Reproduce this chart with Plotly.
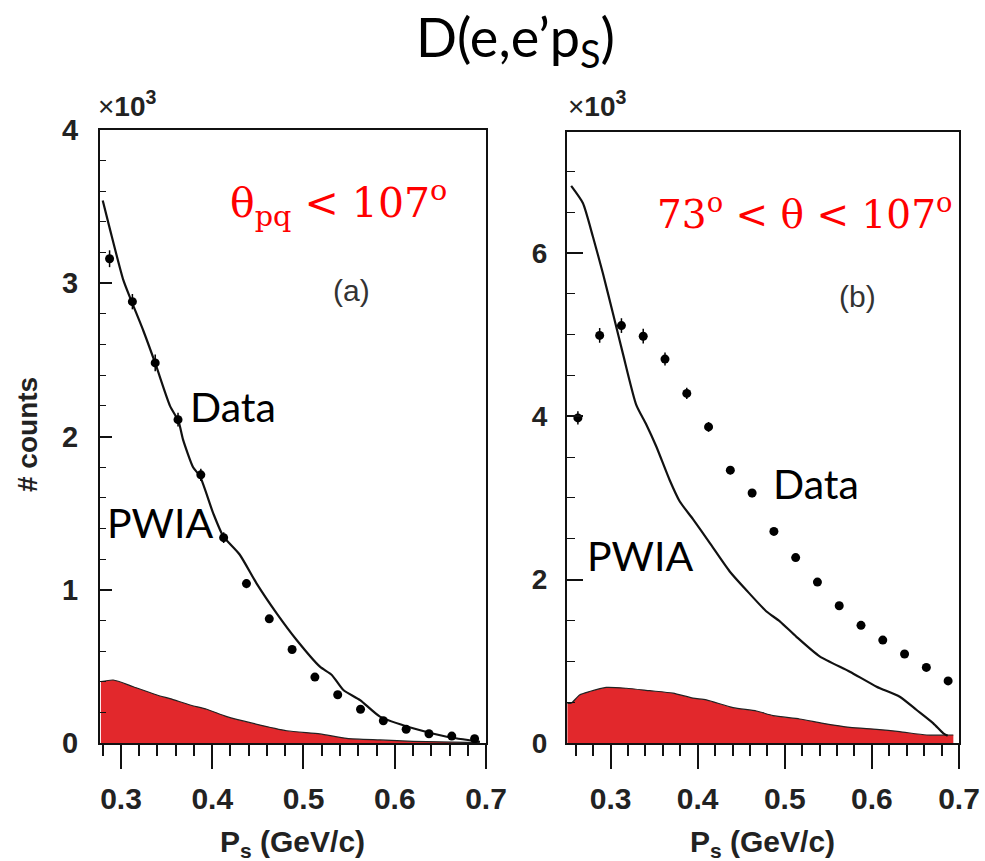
import plotly.graph_objects as go

# ---------------- data (counts in units of 10^3) ----------------
# panel (a): theta_pq < 107
data_a_x = [0.2875, 0.3125, 0.3375, 0.3625, 0.3875, 0.4125, 0.4375, 0.4625, 0.4875,
            0.5125, 0.5375, 0.5625, 0.5875, 0.6125, 0.6375, 0.6625, 0.6875]
data_a_y = [3.16, 2.88, 2.48, 2.11, 1.75, 1.34, 1.04, 0.81, 0.61,
            0.43, 0.315, 0.22, 0.145, 0.09, 0.06, 0.045, 0.028]
data_a_err = [0.055, 0.05, 0.055, 0.045, 0.04, 0.035, 0.03, 0.025, 0.02,
              0.02, 0.015, 0.015, 0.01, 0.01, 0.01, 0.01, 0.01]
pwia_a_x = [0.280, 0.288, 0.3026, 0.3117, 0.3245, 0.338, 0.3537, 0.363, 0.368, 0.379,
            0.3866, 0.401, 0.412, 0.430, 0.4487, 0.4706, 0.4925, 0.518, 0.531, 0.5437,
            0.562, 0.5838, 0.620, 0.657, 0.6934]
pwia_a_y = [3.54, 3.35, 3.02, 2.88, 2.69, 2.47, 2.20, 2.10, 1.98, 1.80,
            1.74, 1.50, 1.35, 1.23, 1.04, 0.846, 0.672, 0.498, 0.444, 0.346,
            0.28, 0.172, 0.096, 0.041, 0.008]
bg_a_x = [0.278, 0.2916, 0.3135, 0.3427, 0.3537, 0.3756, 0.394, 0.416, 0.445, 0.4816,
          0.518, 0.5474, 0.584, 0.620, 0.693]
bg_a_y = [0.40, 0.411, 0.367, 0.307, 0.29, 0.248, 0.22, 0.172, 0.128, 0.080,
          0.059, 0.03, 0.02, 0.011, 0.002]

# panel (b): 73 < theta < 107
data_b_x = [0.2625, 0.2875, 0.3125, 0.3375, 0.3625, 0.3875, 0.4125, 0.4375, 0.4625,
            0.4875, 0.5125, 0.5375, 0.5625, 0.5875, 0.6125, 0.6375, 0.6625, 0.6875]
data_b_y = [3.98, 4.99, 5.11, 4.98, 4.70, 4.28, 3.87, 3.34, 3.06,
            2.59, 2.27, 1.97, 1.68, 1.44, 1.26, 1.09, 0.925, 0.76]
data_b_err = [0.08, 0.09, 0.09, 0.09, 0.08, 0.07, 0.06, 0.05, 0.05,
              0.04, 0.04, 0.03, 0.03, 0.03, 0.03, 0.02, 0.02, 0.02]
pwia_b_x = [0.2548, 0.2682, 0.2797, 0.2912, 0.3027, 0.3141, 0.3295, 0.341, 0.3525,
            0.3678, 0.3793, 0.3946, 0.4138, 0.4368, 0.456, 0.479, 0.4943, 0.5134, 0.540,
            0.5747, 0.6054, 0.632, 0.6514, 0.6705, 0.682, 0.687]
pwia_b_y = [6.82, 6.61, 6.20, 5.75, 5.26, 4.77, 4.14, 3.90, 3.63,
            3.22, 2.96, 2.74, 2.45, 2.10, 1.87, 1.61, 1.49, 1.30, 1.06,
            0.873, 0.69, 0.567, 0.404, 0.241, 0.119, 0.09]
bg_b_x = [0.2505, 0.2548, 0.2644, 0.2759, 0.295, 0.318, 0.345, 0.3716, 0.3946, 0.41,
          0.4406, 0.4675, 0.4866, 0.517, 0.544, 0.5747, 0.6054, 0.632, 0.663, 0.6935]
bg_b_y = [0.486, 0.486, 0.588, 0.63, 0.68, 0.67, 0.64, 0.61, 0.55, 0.527,
          0.433, 0.392, 0.335, 0.294, 0.241, 0.192, 0.168, 0.139, 0.098, 0.098]

x_ticks = [0.3, 0.4, 0.5, 0.6, 0.7]
y_ticks_a = [0, 1, 2, 3, 4]
y_ticks_b = [0, 2, 4, 6]

W, H = 985, 861
RED = "#e2282c"


def px(x):
    return x / W


def py(y):
    return 1 - y / H


fig = go.Figure()

for bx, by, lx, ly, dx, dy, de, xa, ya in [
    (bg_a_x, bg_a_y, pwia_a_x, pwia_a_y, data_a_x, data_a_y, data_a_err, "x", "y"),
    (bg_b_x, bg_b_y, pwia_b_x, pwia_b_y, data_b_x, data_b_y, data_b_err, "x2", "y2"),
]:
    fig.add_trace(go.Scatter(x=bx, y=by, mode="lines", fill="tozeroy", fillcolor=RED,
                             line=dict(color="#222", width=1.2, shape="spline", smoothing=0.6),
                             xaxis=xa, yaxis=ya, hoverinfo="skip"))
    fig.add_trace(go.Scatter(x=lx, y=ly, mode="lines",
                             line=dict(color="#111", width=2.2, shape="spline", smoothing=0.6),
                             xaxis=xa, yaxis=ya))
    fig.add_trace(go.Scatter(x=dx, y=dy, mode="markers",
                             marker=dict(color="black", size=9),
                             error_y=dict(type="data", array=de, color="black", thickness=1.5, width=0),
                             xaxis=xa, yaxis=ya))

tickfont_x = dict(family="Liberation Sans", size=30, color="#222")
common_x = dict(
    automargin=False,
    showgrid=False, zeroline=False, showline=True, linecolor="#111", linewidth=2, mirror=True,
    ticks="outside", ticklen=24, tickwidth=2, tickcolor="#111",
    tickvals=x_ticks, ticktext=["<b>%g</b>" % v for v in x_ticks], tickfont=tickfont_x,
    ticklabelstandoff=4,
    minor=dict(dtick=0.02, tick0=0.3, ticks="outside", ticklen=11, tickwidth=1.6, tickcolor="#111"),
)
common_y = dict(
    automargin=False,
    showgrid=False, zeroline=False, showline=True, linecolor="#111", linewidth=2, mirror=True,
    ticks="inside", tickwidth=1.6, tickcolor="#111",
)

fig.update_layout(
    width=W, height=H, margin=dict(l=0, r=0, t=0, b=0, pad=0),
    paper_bgcolor="white", plot_bgcolor="white", showlegend=False,
    xaxis=dict(common_x, domain=[px(100), px(486)], range=[0.277, 0.7], anchor="y"),
    yaxis=dict(common_y, domain=[py(743), py(130)], range=[0, 4], anchor="x",
               tickvals=y_ticks_a, ticktext=["<b>%d</b>" % v for v in y_ticks_a],
               tickfont=dict(family="Liberation Sans", size=29, color="#222"),
               ticklen=12, ticklabelstandoff=14,
               minor=dict(dtick=0.2, tick0=0, ticks="inside", ticklen=6, tickwidth=1.4, tickcolor="#111")),
    xaxis2=dict(common_x, domain=[px(567), px(959)], range=[0.25, 0.7], anchor="y2"),
    yaxis2=dict(common_y, domain=[py(743), py(132)], range=[0, 7.48], anchor="x2",
                tickvals=y_ticks_b, ticktext=["<b>%d</b>" % v for v in y_ticks_b],
                tickfont=dict(family="Liberation Sans", size=28, color="#222"),
                ticklen=16, ticklabelstandoff=12,
                minor=dict(dtick=0.5, tick0=0, ticks="inside", ticklen=8, tickwidth=1.4, tickcolor="#111")),
)

ann = []


def add(text, x, y, size, family, color="black", xanchor="center", yanchor="middle", angle=0):
    ann.append(dict(text=text, x=px(x), y=py(y), xref="paper", yref="paper", showarrow=False,
                    xanchor=xanchor, yanchor=yanchor, textangle=angle,
                    font=dict(family=family, size=size, color=color)))


add("D(e,e’p<sub>S</sub>)", 515, 40, 54, "Lato")
add("×<b>10<sup>3</sup></b>", 96, 104, 28, "Liberation Sans", "#222", xanchor="left")
add("×<b>10<sup>3</sup></b>", 566, 104, 28, "Liberation Sans", "#222", xanchor="left")
add("<b># counts</b>", 28, 435, 28, "Liberation Sans", "#222", angle=-90)
add("<b>P<sub>s</sub> (GeV/c)</b>", 292, 843, 30, "Liberation Sans", "#222")
add("<b>P<sub>s</sub> (GeV/c)</b>", 762, 843, 30, "Liberation Sans", "#222")
add("θ<sub>pq</sub> &lt; 107<sup>o</sup>", 338, 203, 41, "DejaVu Serif", "#ff0000")
add("73<sup>o</sup> &lt; θ &lt; 107<sup>o</sup>", 804, 212, 39, "DejaVu Serif", "#ff0000")
add("(a)", 351, 290, 30, "Liberation Sans", "#333")
add("(b)", 857, 296, 30, "Liberation Sans", "#333")
add("Data", 233, 406, 41, "Lato")
add("PWIA", 160, 522, 41, "Lato")
add("Data", 816, 483, 41, "Lato")
add("PWIA", 640, 555, 41, "Lato")

fig.update_layout(annotations=ann)
fig.write_html("out.html")
